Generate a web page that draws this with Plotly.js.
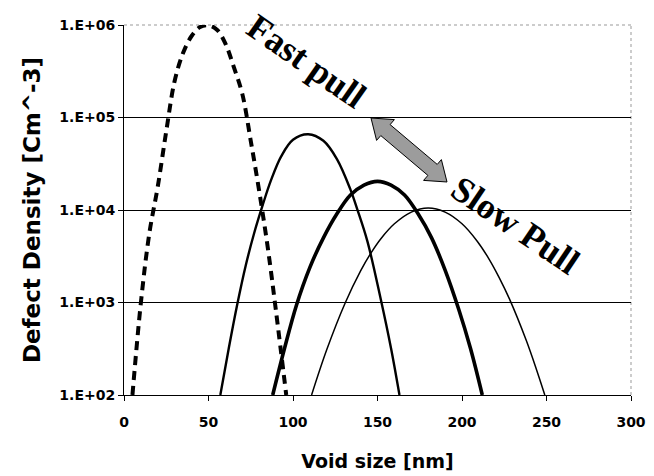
<!DOCTYPE html>
<html><head><meta charset="utf-8">
<script src="https://cdn.plot.ly/plotly-3.0.1.min.js"></script>
<style>html,body{margin:0;padding:0;background:#fff;}#chart{width:654px;height:476px;}</style>
</head><body><div id="chart"></div>
<script>
// Data
const fastX = [5, 10, 15, 20, 25, 30, 35, 40, 45, 50, 55, 60, 65, 70, 75, 80, 85, 90, 96];
const fastY = [100, 1000, 5600, 18000, 71000, 250000, 500000, 760000, 950000, 990000, 890000, 630000, 350000, 180000, 56000, 16000, 4000, 790, 100];

const midX = [57, 62, 67, 72, 77, 82, 87, 93, 100, 109, 118, 126, 134, 138, 144, 152, 158, 163];
const midY = [100, 320, 950, 2500, 5600, 11200, 21000, 38000, 57500, 66000, 56000, 35500, 16600, 10200, 4600, 1070, 320, 100];

const thickX = [88, 95, 102, 110, 118, 126, 134, 142, 150, 158, 166, 174, 182, 190, 198, 205, 212];
const thickY = [100, 320, 930, 2400, 5000, 9100, 14500, 18600, 20400, 18600, 14500, 9100, 5000, 2240, 850, 320, 100];

const slowX = [111, 120, 131, 140, 146, 152, 160, 170, 180, 190, 200, 209, 216, 222, 228, 238, 244, 249];
const slowY = [100, 310, 1000, 2200, 3400, 4900, 7100, 9500, 10500, 9500, 7100, 4600, 2950, 1860, 1100, 390, 190, 100];

const xTickVals = [0, 50, 100, 150, 200, 250, 300];
const yTickVals = [100, 1000, 10000, 100000, 1000000];
const yTickText = ["1.E+02", "1.E+03", "1.E+04", "1.E+05", "1.E+06"];

const xTitle = "Void size [nm]";
const yTitle = "Defect Density [Cm^-3]";
const labelFast = "Fast pull";
const labelSlow = "Slow Pull";

// layout geometry
const M = {l: 124, r: 23, t: 25, b: 81};
const W = 654, H = 476;
const PW = W - M.l - M.r, PH = H - M.t - M.b;
const px = x => (x - M.l) / PW;
const py = y => (H - M.b - y) / PH;

function sp(x, y, w, dash) {
  return {x: x, y: y, type: 'scatter', mode: 'lines',
    line: {color: '#000', width: w, dash: dash || 'solid', shape: 'spline', smoothing: 1},
    hoverinfo: 'skip'};
}
const traces = [
  sp(fastX, fastY, 4, '9px,6px'),
  sp(midX, midY, 2.4),
  sp(thickX, thickY, 3.6),
  sp(slowX, slowY, 1.5)
];

// double-headed arrow polygon (pixel coords -> paper)
const arrowPts = [[371,118],[376.6,140.4],[380.8,135.6],[427.9,175.4],[423.6,180.4],[447,182],[441.4,159.6],[437.2,164.4],[390.1,124.6],[394.4,119.6]];
const arrowPath = 'M' + arrowPts.map(p => px(p[0]).toFixed(4) + ',' + py(p[1]).toFixed(4)).join(' L') + ' Z';

const tickFont = {family: 'DejaVu Sans', size: 14, weight: 'bold', color: '#000'};

const layout = {
  width: W, height: H, margin: M,
  paper_bgcolor: '#fff', plot_bgcolor: '#fff', showlegend: false,
  font: {family: 'DejaVu Sans', color: '#000'},
  xaxis: {
    range: [0, 300], tickvals: xTickVals, showgrid: false, zeroline: false,
    showline: true, linecolor: '#000', linewidth: 1, ticks: 'outside', ticklen: 5, tickcolor: '#000',
    tickfont: tickFont, ticklabelstandoff: 9,
    title: {text: xTitle, font: {family: 'DejaVu Sans', size: 19, weight: 'bold', color: '#000'}, standoff: 25}
  },
  yaxis: {
    type: 'log', range: [2, 6], tickvals: yTickVals, ticktext: yTickText,
    showgrid: true, gridcolor: '#000', gridwidth: 1, zeroline: false,
    showline: true, linecolor: '#000', linewidth: 1, ticks: 'outside', ticklen: 5, tickcolor: '#000',
    tickfont: tickFont,
    title: {text: yTitle, font: {family: 'DejaVu Sans', size: 23, weight: 'bold', color: '#000'}, standoff: 12}
  },
  shapes: [
    {type: 'line', xref: 'paper', yref: 'paper', x0: 0, x1: 1, y0: 1, y1: 1, layer: 'between', line: {color: '#fff', width: 2}},
    {type: 'line', xref: 'paper', yref: 'paper', x0: 0, x1: 1, y0: 1, y1: 1, layer: 'between', line: {color: '#999', width: 1, dash: 'dot'}},
    {type: 'line', xref: 'paper', yref: 'paper', x0: 1, x1: 1, y0: 0, y1: 1, layer: 'between', line: {color: '#999', width: 1, dash: 'dot'}},
    {type: 'path', xref: 'paper', yref: 'paper', path: arrowPath, fillcolor: '#9c9c9c', line: {color: '#000', width: 1}}
  ],
  annotations: [
    {xref: 'paper', yref: 'paper', x: px(306), y: py(61), text: labelFast, showarrow: false, textangle: 35,
     xanchor: 'center', yanchor: 'middle', font: {family: 'Liberation Serif', size: 36, weight: 'bold', color: '#000'}},
    {xref: 'paper', yref: 'paper', x: px(515), y: py(225), text: labelSlow, showarrow: false, textangle: 34,
     xanchor: 'center', yanchor: 'middle', font: {family: 'Liberation Serif', size: 36, weight: 'bold', color: '#000'}}
  ]
};

Plotly.newPlot('chart', traces, layout, {staticPlot: true, displayModeBar: false});
</script>
</body></html>
